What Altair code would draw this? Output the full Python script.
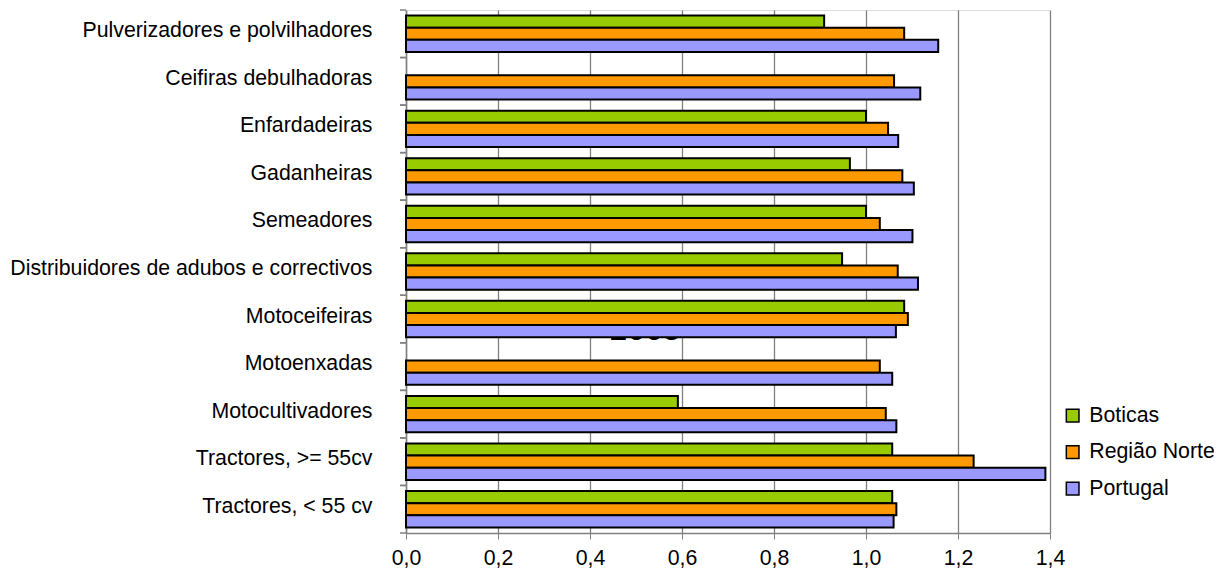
import altair as alt
import pandas as pd

categories = [
    "Pulverizadores e polvilhadores",
    "Ceifiras debulhadoras",
    "Enfardadeiras",
    "Gadanheiras",
    "Semeadores",
    "Distribuidores de adubos e correctivos",
    "Motoceifeiras",
    "Motoenxadas",
    "Motocultivadores",
    "Tractores, >= 55cv",
    "Tractores, < 55 cv",
]
series_names = ["Boticas", "Região Norte", "Portugal"]
boticas = [0.909, None, 1.000, 0.965, 1.000, 0.948, 1.083, None, 0.591, 1.057, 1.057]
regiao_norte = [1.083, 1.061, 1.048, 1.079, 1.030, 1.069, 1.091, 1.030, 1.043, 1.234, 1.066]
portugal = [1.157, 1.118, 1.070, 1.104, 1.101, 1.113, 1.065, 1.057, 1.066, 1.390, 1.060]
colors = ["#99CC00", "#FF9900", "#9999FF"]
x_ticks = [0.0, 0.2, 0.4, 0.6, 0.8, 1.0, 1.2, 1.4]

# hidden annotation text partially covered by bars
note_text = ["2005"]
note_x = [0.52]
note_cat = ["Motoceifeiras"]

rows = []
for name, vals in zip(series_names, [boticas, regiao_norte, portugal]):
    for c, v in zip(categories, vals):
        if v is not None:
            rows.append({"cat": c, "serie": name, "val": v})
df = pd.DataFrame(rows)
cat_df = pd.DataFrame({"cat": categories})
note_df = pd.DataFrame({"cat": note_cat, "x": note_x, "t": note_text})

FONT = "Liberation Sans"
FS = 21.3
W, H = 644, 523

yscale = alt.Scale(domain=categories, paddingInner=0, paddingOuter=0)
xscale = alt.Scale(domain=[0, 1.4], nice=False, zero=True)

y_axis = alt.Axis(
    labelFont=FONT, labelFontSize=FS, labelColor="#000000",
    ticks=False, labelPadding=34, labelLimit=600, labelOffset=-2.5,
    domainColor="#808080", domainWidth=1.5,
)
x_axis = alt.Axis(
    values=x_ticks,
    labelExpr="replace(format(datum.value, '.1f'), '.', ',')",
    labelFont=FONT, labelFontSize=FS, labelColor="#000000",
    labelFlush=False,
    tickSize=6, tickColor="#808080", labelPadding=8,
    domainColor="#808080", domainWidth=1.5,
    grid=True, gridColor="#808080", gridWidth=1.3,
)

note = alt.Chart(note_df).mark_text(
    font=FONT, fontSize=32, color="#000000", baseline="alphabetic", dy=-3
).encode(
    y=alt.Y("cat:N", scale=yscale, sort=categories, bandPosition=1, title=None, axis=y_axis),
    x=alt.X("x:Q", scale=xscale, title=None, axis=x_axis),
    text="t:N",
)

bars = alt.Chart(df).mark_bar(stroke="#000000", strokeWidth=2, opacity=1).encode(
    y=alt.Y("cat:N", scale=yscale, sort=categories, title=None, axis=y_axis),
    x=alt.X("val:Q", scale=xscale, title=None, axis=x_axis),
    yOffset=alt.YOffset(
        "serie:N",
        sort=series_names,
        scale=alt.Scale(domain=series_names, paddingInner=0, paddingOuter=0.46),
    ),
    color=alt.Color(
        "serie:N",
        scale=alt.Scale(domain=series_names, range=colors),
        sort=series_names,
        legend=alt.Legend(
            title=None, orient="none", legendX=656, legendY=395,
            symbolType="square", symbolSize=160, symbolStrokeColor="#000000",
            symbolStrokeWidth=1.5, symbolOpacity=1,
            labelFont=FONT, labelFontSize=FS, labelColor="#000000",
            labelOffset=6, rowPadding=14.5, labelLimit=300, padding=0,
        ),
    ),
)

ticks_top = alt.Chart(cat_df).mark_rule(color="#808080", strokeWidth=1.5).encode(
    y=alt.Y("cat:N", scale=yscale, sort=categories, bandPosition=0, title=None, axis=y_axis),
    x=alt.value(-6),
    x2=alt.value(0),
)
ticks_bot = alt.Chart(cat_df).mark_rule(color="#808080", strokeWidth=1.5).encode(
    y=alt.Y("cat:N", scale=yscale, sort=categories, bandPosition=1, title=None, axis=y_axis),
    x=alt.value(-6),
    x2=alt.value(0),
)

chart = alt.layer(note, bars, ticks_top, ticks_bot).properties(
    width=W, height=H,
    autosize=alt.AutoSizeParams(type="none"),
    padding={"left": 398, "top": 2, "right": 164, "bottom": 36},
).configure_view(stroke=None).configure(background="white")

chart.save("out.html", embed_options={"renderer": "svg", "actions": False})
